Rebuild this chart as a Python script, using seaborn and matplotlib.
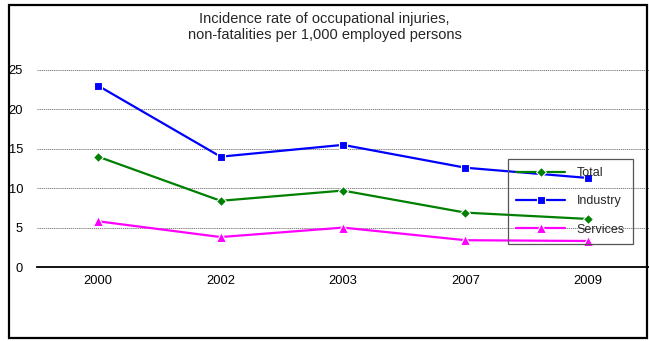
import matplotlib
matplotlib.use("Agg")
import matplotlib.pyplot as plt
from matplotlib.patches import Rectangle
from matplotlib.ticker import FixedLocator
import seaborn as sns
import pandas as pd

years = ["2000", "2002", "2003", "2007", "2009"]
series_names = ["Total", "Industry", "Services"]
total = [14.0, 8.4, 9.7, 6.9, 6.1]
industry = [23.0, 14.0, 15.5, 12.6, 11.3]
services = [5.8, 3.8, 5.0, 3.4, 3.3]
y_ticks = [0, 5, 10, 15, 20, 25]
title = "Incidence rate of occupational injuries,\nnon-fatalities per 1,000 employed persons"

colors = {"Total": "#008000", "Industry": "#0000FF", "Services": "#FF00FF"}
markers = {"Total": "D", "Industry": "s", "Services": "^"}
msizes = {"Total": 5.0, "Industry": 5.5, "Services": 6.5}

rows = []
for name, vals in zip(series_names, [total, industry, services]):
    for y, v in zip(years, vals):
        rows.append({"year": y, "value": v, "series": name})
df = pd.DataFrame(rows)

sns.set_style("white")
plt.rcParams["font.family"] = ["Liberation Sans", "DejaVu Sans"]

fig = plt.figure(figsize=(6.49, 3.41), dpi=100)
ax = fig.add_axes([37 / 649, 1 - 267 / 341, 612 / 649, 197 / 341])

sns.lineplot(data=df, x="year", y="value", hue="series", style="series",
             hue_order=series_names, style_order=series_names,
             palette=colors, markers=markers, dashes=False,
             linewidth=1.6, markersize=5, markeredgewidth=0.8, ax=ax)

ax.set_xlim(-0.5, len(years) - 0.5)
ax.set_ylim(0, 25)
ax.set_yticks(y_ticks)
ax.set_xlabel("")
ax.set_ylabel("")
ax.yaxis.grid(True, linestyle=(0, (1.5, 1)), color="#666666", linewidth=0.6)
ax.xaxis.grid(False)
for s in ["top", "right", "left"]:
    ax.spines[s].set_visible(False)
ax.spines["bottom"].set_color("black")
ax.spines["bottom"].set_linewidth(1.3)
ax.tick_params(axis="y", length=0, pad=10, labelsize=9.3, colors="black")
ax.tick_params(axis="x", which="major", length=0, pad=6, labelsize=9.3, colors="black")
ax.xaxis.set_minor_locator(FixedLocator([i - 0.5 for i in range(len(years) + 1)]))
ax.tick_params(axis="x", which="minor", length=3, width=0.8, direction="out", color="black")

leg = ax.legend(loc="upper left", bbox_to_anchor=(0.760, 0.580), fontsize=9,
                frameon=True, fancybox=False, shadow=False, edgecolor="#555555",
                framealpha=1, handlelength=3.9, handletextpad=0.9,
                labelspacing=1.3, borderpad=0.65)
leg.get_frame().set_facecolor("none")
leg.get_frame().set_linewidth(0.9)
for h, name in zip(leg.legend_handles, series_names):
    h.set_markersize(msizes[name])
    h.set_linewidth(1.6)

for line in ax.lines:
    c = matplotlib.colors.to_hex(line.get_color()).lower()
    for name in series_names:
        if c == colors[name].lower():
            line.set_markersize(msizes[name])
ax.set_zorder(1)

fig.text(0.5, 1 - 27 / 341, title, ha="center", va="center", fontsize=10.5,
         linespacing=1.1)

fig.patches.append(Rectangle((9 / 649, 1 - 338 / 341), 638 / 649, 333 / 341,
                             transform=fig.transFigure, fill=False,
                             edgecolor="black", linewidth=1.6, zorder=10))

fig.savefig("out.png", dpi=100)
